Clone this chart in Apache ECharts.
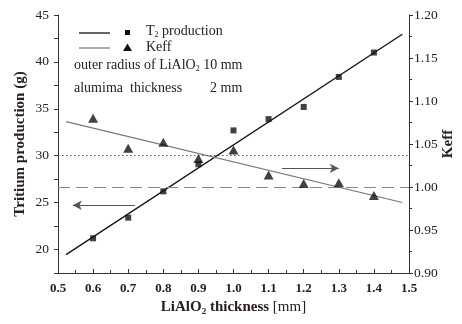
<!DOCTYPE html>
<html><head><meta charset="utf-8">
<script src="https://cdn.jsdelivr.net/npm/echarts@6/dist/echarts.min.js"></script>
<style>html,body{margin:0;padding:0;background:#fff}#c{width:462px;height:324px}</style>
</head><body><div id="c"></div>
<script>
var thickness = [0.6, 0.7, 0.8, 0.9, 1.0, 1.1, 1.2, 1.3, 1.4];
var t2Production = [21.2, 23.4, 26.2, 29.1, 32.7, 33.9, 35.2, 38.4, 41.0];
var keff = [1.080, 1.045, 1.052, 1.033, 1.043, 1.014, 1.004, 1.005, 0.990];
var fitX = [0.523, 1.481];
var t2Fit = [19.46, 42.94];
var keffFit = [1.076, 0.982];
var leftRef = 30;
var keffRef = 1.00;
var leftArrow = {from: [0.719, 24.72], to: [0.542, 24.72]};
var rightArrow = {from: [1.138, 1.0217], to: [1.300, 1.0217]};

var serif = 'Liberation Serif';
var txt = '#2a201c';
function pairs(xs, ys){ return xs.map(function(x,i){ return [x, ys[i]]; }); }

var chart = echarts.init(document.getElementById('c'));
chart.setOption({
  animation: false,
  textStyle: {fontFamily: serif},
  grid: {left: 58, right: 53, top: 15, bottom: 51, containLabel: false, outerBoundsMode: 'none'},
  xAxis: {
    type: 'value', min: 0.5, max: 1.5, interval: 0.1,
    axisLine: {lineStyle: {color: '#333', width: 1}},
    axisTick: {inside: true, length: 4, lineStyle: {color: '#333'}},
    minorTick: {show: true, splitNumber: 2, length: 3, lineStyle: {color: '#333'}},
    splitLine: {show: false},
    axisLabel: {color: txt, fontFamily: serif, fontWeight: 'bold', fontSize: 13, margin: 9,
      formatter: function(v){ return v.toFixed(1); }},
    name: '{b|LiAlO}{s|2}{b| thickness }{n|[mm]}',
    nameLocation: 'middle', nameGap: 25,
    nameTextStyle: {rich: {
      b: {fontFamily: serif, fontWeight: 'bold', fontSize: 15, color: txt},
      s: {fontFamily: serif, fontWeight: 'bold', fontSize: 9, color: txt, verticalAlign: 'bottom', padding: [8,0,0,0]},
      n: {fontFamily: serif, fontSize: 15, color: txt}
    }}
  },
  yAxis: [{
    type: 'value', min: 17.5, max: 45, interval: 2.5, position: 'left',
    axisLine: {show: true, lineStyle: {color: '#333'}},
    axisTick: {show: true, length: 4, lineStyle: {color: '#333'}},
    splitLine: {show: false},
    axisLabel: {color: txt, fontFamily: serif, fontSize: 13.5, margin: 9,
      formatter: function(v){ return (Math.round(v*10) % 50 === 0) ? String(v) : ''; }},
    name: 'Tritium production (g)', nameLocation: 'middle', nameGap: 30, nameRotate: 90,
    nameMoveOverlap: false,
    nameTextStyle: {fontFamily: serif, fontWeight: 'bold', fontSize: 15, color: txt}
  }, {
    type: 'value', min: 0.90, max: 1.20, interval: 0.05, position: 'right',
    axisLine: {show: true, lineStyle: {color: '#333'}},
    axisTick: {show: true, length: 4, lineStyle: {color: '#333'}},
    minorTick: {show: true, splitNumber: 2, length: 3, lineStyle: {color: '#333'}},
    splitLine: {show: false},
    axisLabel: {color: txt, fontFamily: serif, fontSize: 13.5, margin: 5,
      formatter: function(v){ return v.toFixed(2); }},
    name: 'Keff', nameLocation: 'middle', nameGap: 32, nameRotate: 90,
    nameMoveOverlap: false,
    nameTextStyle: {fontFamily: serif, fontWeight: 'bold', fontSize: 15, color: txt}
  }],
  series: [
    {type: 'line', yAxisIndex: 0, data: pairs(fitX, t2Fit), symbol: 'none',
      lineStyle: {color: '#111', width: 1.3}, z: 3,
      markLine: {silent: true, symbol: 'none', label: {show: false},
        lineStyle: {color: '#555', type: [1.5, 2.5], width: 1},
        data: [{yAxis: leftRef}]}},
    {type: 'line', yAxisIndex: 1, data: pairs(fitX, keffFit), symbol: 'none',
      lineStyle: {color: '#777', width: 1.2}, z: 3,
      markLine: {silent: true, symbol: 'none', label: {show: false},
        lineStyle: {color: '#888', type: [12, 6], width: 1.2},
        data: [{yAxis: keffRef}]}},
    {type: 'scatter', yAxisIndex: 0, data: pairs(thickness, t2Production), symbol: 'rect', symbolSize: 6,
      itemStyle: {color: '#111'}, z: 5,
      markLine: {silent: true, symbol: ['none', 'arrow'], symbolSize: [7, 9], label: {show: false},
        lineStyle: {color: '#555', type: 'solid', width: 1},
        data: [[{coord: leftArrow.from}, {coord: leftArrow.to}]]}},
    {type: 'scatter', yAxisIndex: 1, data: pairs(thickness, keff), symbol: 'triangle', symbolSize: [10, 9],
      itemStyle: {color: '#111'}, z: 5,
      markLine: {silent: true, symbol: ['none', 'arrow'], symbolSize: [7, 9], label: {show: false},
        lineStyle: {color: '#555', type: 'solid', width: 1},
        data: [[{coord: rightArrow.from}, {coord: rightArrow.to}]]}}
  ],
  graphic: [
    {type: 'line', shape: {x1: 79, y1: 33, x2: 110, y2: 33}, style: {stroke: '#111', lineWidth: 1.3}},
    {type: 'rect', shape: {x: 125, y: 30, width: 5, height: 5}, style: {fill: '#111'}},
    {type: 'text', left: 146, top: 24, style: {
      text: '{a|T}{s|2}{a| production}',
      rich: {a: {fontFamily: serif, fontSize: 14, fill: txt}, s: {fontFamily: serif, fontSize: 8, fill: txt, padding: [7,0,0,0]}}}},
    {type: 'line', shape: {x1: 79, y1: 48, x2: 110, y2: 48}, style: {stroke: '#777', lineWidth: 1.2}},
    {type: 'polygon', shape: {points: [[127.5, 43.5], [132, 51], [123, 51]]}, style: {fill: '#111'}},
    {type: 'text', left: 146, top: 40, style: {text: 'Keff', fontFamily: serif, fontSize: 14, fill: txt}},
    {type: 'text', left: 74, top: 58, style: {
      text: '{a|outer radius of LiAlO}{s|2}{a| 10 mm}',
      rich: {a: {fontFamily: serif, fontSize: 14, fill: txt}, s: {fontFamily: serif, fontSize: 8, fill: txt, padding: [7,0,0,0]}}}},
    {type: 'text', left: 74, top: 81, style: {text: 'alumima  thickness        2 mm', fontFamily: serif, fontSize: 14, fill: txt}}
  ]
});
</script></body></html>
